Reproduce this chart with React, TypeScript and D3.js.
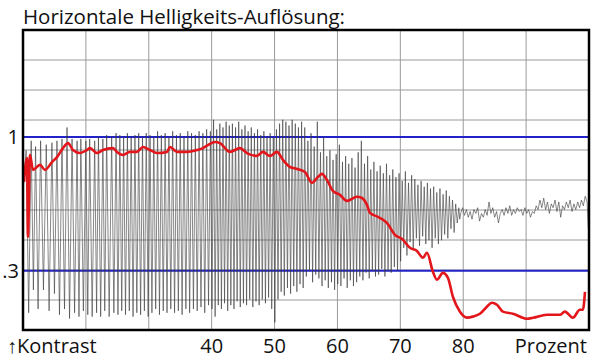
import React from "react";
import * as d3 from "d3";

const width = 600;
const height = 364;
const plot = { left: 23, right: 589, top: 30, bottom: 330 };

const title = "Horizontale Helligkeits-Auflösung:";

// x axis: Prozent, 10 .. 100 across 9 grid columns
const xTicks = [40, 50, 60, 70, 80];
const xGrid = [10, 20, 30, 40, 50, 60, 70, 80, 90, 100];
const yRefLines = [1, 0.3];
const yTickLabels = ["1", ".3"];

// oscillating signal: x position of each peak (Prozent), peak and trough value
const waveX = [
  10.5, 11.3, 12.0, 12.8, 13.7, 14.6, 15.4, 16.2, 17.0, 17.8, 18.6, 19.2, 20.0, 20.6, 21.4, 22.0, 22.7, 23.3, 24.1, 24.8, 25.4,
  26.0, 26.6, 27.2, 27.8, 28.4, 29.0, 29.6, 30.2, 30.8, 31.4, 32.0, 32.6, 33.2, 33.8, 34.4, 35.0, 35.6, 36.2, 36.8, 37.4, 38.0, 38.6, 39.2, 39.8,
  40.3, 40.8, 41.3, 41.8, 42.3, 42.8, 43.3, 43.8, 44.3, 44.8, 45.3, 45.8, 46.3, 46.8, 47.3, 47.8, 48.3, 48.8, 49.3, 49.8, 50.3, 50.8, 51.3, 51.8, 52.3, 52.8, 53.3, 53.8, 54.3,
  54.8, 55.3, 55.8, 56.3, 56.8, 57.3, 57.8, 58.3, 58.8, 59.3, 59.8, 60.3, 60.8, 61.3, 61.8, 62.3, 62.8, 63.3, 63.8, 64.3, 64.8, 65.3, 65.8, 66.3, 66.8,
  67.3, 67.8, 68.3, 68.8, 69.3, 69.8, 70.3, 70.8, 71.3, 71.8, 72.3, 72.8, 73.3, 73.8, 74.3, 74.8, 75.3, 75.8, 76.3, 76.8, 77.3, 77.8, 78.3, 78.8, 79.3,
];
const wavePeak = [
  0.93, 0.98, 0.95, 0.98, 0.96, 0.97, 0.98, 0.99, 1.05, 0.99, 0.98, 0.99, 0.98, 0.99, 0.98, 1.0, 0.99, 1.01, 1.0, 1.02, 1.01,
  1.0, 1.02, 1.0, 1.01, 1.02, 1.0, 1.02, 1.01, 1.0, 1.03, 1.01, 1.02, 1.0, 1.03, 1.01, 1.02, 1.0, 1.03, 1.02, 1.01, 1.03, 1.02, 1.04, 1.03,
  1.09, 1.04, 1.07, 1.05, 1.08, 1.06, 1.07, 1.05, 1.08, 1.04, 1.06, 1.03, 1.05, 1.02, 1.04, 1.01, 1.03, 1.0, 1.02, 1.0, 1.04, 1.07, 1.09, 1.08, 1.06, 1.09, 1.07, 1.05, 1.08,
  1.05, 0.98, 1.02, 0.95, 1.08, 0.92, 1.0, 0.9, 0.93, 0.88, 0.91, 0.96, 0.87, 0.9, 0.86, 0.89, 0.84, 0.92, 0.98, 0.86, 0.9, 0.83, 0.87, 0.82, 0.85,
  0.81, 0.86, 0.8, 0.83, 0.79, 0.81, 0.77, 0.82, 0.76, 0.8, 0.78, 0.75, 0.77, 0.74, 0.76, 0.73, 0.74, 0.71, 0.73, 0.7, 0.72, 0.69, 0.67, 0.65, 0.63,
];
const waveTrough = [
  0.08, 0.2, 0.1, 0.2, 0.09, 0.18, 0.07, 0.1, 0.05, 0.08, 0.06, 0.09, 0.07, 0.06, 0.08, 0.06, 0.09, 0.06, 0.08, 0.07, 0.09,
  0.07, 0.09, 0.06, 0.08, 0.07, 0.09, 0.06, 0.08, 0.1, 0.07, 0.09, 0.08, 0.1, 0.08, 0.09, 0.07, 0.1, 0.08, 0.1, 0.09, 0.11, 0.08, 0.12, 0.1,
  0.06, 0.12, 0.1, 0.13, 0.09, 0.12, 0.1, 0.14, 0.11, 0.13, 0.12, 0.15, 0.11, 0.14, 0.12, 0.15, 0.13, 0.16, 0.1, 0.03, 0.15, 0.19, 0.17, 0.21, 0.18, 0.22, 0.19, 0.23, 0.21,
  0.27, 0.3, 0.24, 0.28, 0.26, 0.22, 0.25, 0.21, 0.24, 0.2, 0.23, 0.22, 0.26, 0.21, 0.25, 0.22, 0.24, 0.27, 0.25, 0.29, 0.26, 0.3, 0.27, 0.28, 0.31,
  0.27, 0.3, 0.29, 0.32, 0.3, 0.35, 0.42, 0.38, 0.45, 0.41, 0.47, 0.43, 0.48, 0.44, 0.46, 0.42, 0.47, 0.44, 0.46, 0.49, 0.47, 0.52, 0.5, 0.55, 0.57,
];

// residual noise once the pattern is no longer resolved
const noiseX = [
  79.6, 79.9, 80.2, 80.5, 80.8, 81.1, 81.4, 81.7, 82.0, 82.3, 82.6, 82.9, 83.2, 83.5, 83.8, 84.1, 84.4, 84.7, 85.0, 85.3, 85.6, 85.9, 86.2,
  86.5, 86.8, 87.1, 87.4, 87.7, 88.0, 88.3, 88.6, 88.9, 89.2, 89.5, 89.8, 90.1, 90.4, 90.7, 91.0, 91.3, 91.6, 91.9, 92.2, 92.5, 92.8, 93.1,
  93.4, 93.7, 94.0, 94.3, 94.6, 94.9, 95.2, 95.5, 95.8, 96.1, 96.4, 96.7, 97.0, 97.3, 97.6, 97.9, 98.2, 98.5, 98.8, 99.1, 99.4, 99.7, 99.9,
];
const noiseV = [
  0.6, 0.63, 0.59, 0.62, 0.58, 0.61, 0.57, 0.62, 0.6, 0.63, 0.56, 0.6, 0.58, 0.62, 0.59, 0.66, 0.6, 0.63, 0.58, 0.61, 0.55, 0.6, 0.62,
  0.59, 0.63, 0.6, 0.64, 0.59, 0.62, 0.6, 0.63, 0.61, 0.62, 0.59, 0.63, 0.6, 0.62, 0.58, 0.61, 0.6, 0.64, 0.62, 0.67, 0.63, 0.68, 0.62,
  0.66, 0.6, 0.65, 0.63, 0.67, 0.61, 0.66, 0.58, 0.64, 0.62, 0.66, 0.63, 0.67, 0.61, 0.65, 0.62, 0.66, 0.63, 0.67, 0.64, 0.69, 0.66, 0.52,
];

// smoothed contrast (red)
const redX = [
  10.16, 10.64, 10.79, 11.11, 11.59, 12.7, 13.5, 14.61, 15.41, 16.36, 17.15, 17.95, 19.06, 20.17, 20.65, 21.76, 22.72, 24.31, 24.94,
  25.9, 27.01, 28.12, 29.08, 30.19, 31.3, 32.89, 33.37, 34.48, 36.07, 37.66, 38.62, 39.41, 40.52, 41.32, 42.91, 44.5, 45.61, 47.2,
  48.16, 49.27, 50.38, 51.34, 52.45, 53.56, 54.83, 55.95, 56.9, 57.54, 58.33, 59.28, 60.4, 61.51, 63.1, 63.9, 64.69, 65.17, 66.44,
  67.87, 69.14, 70.25, 71.53, 72.64, 73.59, 74.23, 75.18, 75.82, 76.77, 77.57, 78.36, 79.48, 80.59, 81.54, 82.66, 83.77, 84.56,
  85.36, 86.31, 87.9, 90.13, 91.08, 93.31, 95.37, 96.17, 97.44, 98.55, 99.03, 99.36,
];
const redV = [
  0.765, 0.89, 0.478, 0.906, 0.828, 0.854, 0.828, 0.869, 0.895, 0.942, 0.968, 0.932, 0.916, 0.932, 0.942, 0.916, 0.932, 0.942, 0.922,
  0.906, 0.922, 0.922, 0.948, 0.932, 0.916, 0.922, 0.948, 0.922, 0.922, 0.932, 0.942, 0.958, 0.974, 0.968, 0.922, 0.942, 0.916, 0.901,
  0.922, 0.901, 0.922, 0.88, 0.843, 0.833, 0.817, 0.76, 0.791, 0.807, 0.775, 0.718, 0.697, 0.666, 0.687, 0.681, 0.645, 0.603, 0.582,
  0.551, 0.488, 0.467, 0.42, 0.404, 0.368, 0.394, 0.295, 0.253, 0.289, 0.263, 0.164, 0.086, 0.055, 0.06, 0.075, 0.112, 0.133,
  0.122, 0.086, 0.075, 0.049, 0.054, 0.07, 0.07, 0.086, 0.054, 0.096, 0.096, 0.19,
];

const font = "'Open Sans', 'Noto Sans', sans-serif";

export default function App() {
  const x = d3.scaleLinear().domain([10, 100]).range([plot.left, plot.right]);
  const y = d3.scaleLinear().domain([-0.01, 1.56]).range([plot.bottom, plot.top]);
  const rows = d3.scaleLinear().domain([0, 10]).range([plot.bottom, plot.top]);

  const wavePts: [number, number][] = [[10.1, 0.75]];
  waveX.forEach((wx, i) => {
    wavePts.push([wx, wavePeak[i]]);
    const next = i < waveX.length - 1 ? waveX[i + 1] : noiseX[0];
    wavePts.push([(wx + next) / 2, waveTrough[i]]);
  });
  noiseX.forEach((nx, i) => wavePts.push([nx, noiseV[i]]));

  const line = d3
    .line<[number, number]>()
    .x((d) => x(d[0]))
    .y((d) => y(d[1]));

  const redPts: [number, number][] = redX.map((rx, i) => [rx, redV[i]]);
  const redLine = d3
    .line<[number, number]>()
    .x((d) => x(d[0]))
    .y((d) => y(d[1]))
    .curve(d3.curveMonotoneX);

  return (
    <svg
      width={width}
      height={height}
      style={{ position: "absolute", left: 0, top: 0, background: "#fff" }}
      fontFamily={font}
    >
      <rect width={width} height={height} fill="#fff" />
      <text x={plot.left} y={24} fontSize={20.5} fill="#111">
        {title}
      </text>

      <g stroke="#9a9a9a" strokeWidth={1}>
        {d3.range(1, 10).map((r) => (
          <line key={"h" + r} x1={plot.left} x2={plot.right} y1={rows(r)} y2={rows(r)} />
        ))}
        {xGrid.slice(1, -1).map((g) => (
          <line key={"v" + g} x1={x(g)} x2={x(g)} y1={plot.top} y2={plot.bottom} />
        ))}
      </g>

      <g stroke="#2222c8" strokeWidth={1.8}>
        {yRefLines.map((v) => (
          <line key={v} x1={plot.left} x2={plot.right} y1={y(v)} y2={y(v)} />
        ))}
      </g>

      <path d={line(wavePts) ?? ""} fill="none" stroke="#383838" strokeWidth={0.6} />
      <path d={redLine(redPts) ?? ""} fill="none" stroke="#e3161c" strokeWidth={2.6} strokeLinejoin="round" />

      <rect
        x={plot.left}
        y={plot.top}
        width={plot.right - plot.left}
        height={plot.bottom - plot.top}
        fill="none"
        stroke="#000"
        strokeWidth={2.5}
      />

      {yRefLines.map((v, i) => (
        <text key={v} x={19} y={y(v) + 7} fontSize={20} textAnchor="end" fill="#111">
          {yTickLabels[i]}
        </text>
      ))}

      <g fontSize={20} fill="#111">
        <text x={7} y={353}>↑Kontrast</text>
        {xTicks.map((t) => (
          <text key={t} x={x(t)} y={353} textAnchor="middle">
            {t}
          </text>
        ))}
        <text x={587} y={353} textAnchor="end">
          Prozent
        </text>
      </g>
    </svg>
  );
}
